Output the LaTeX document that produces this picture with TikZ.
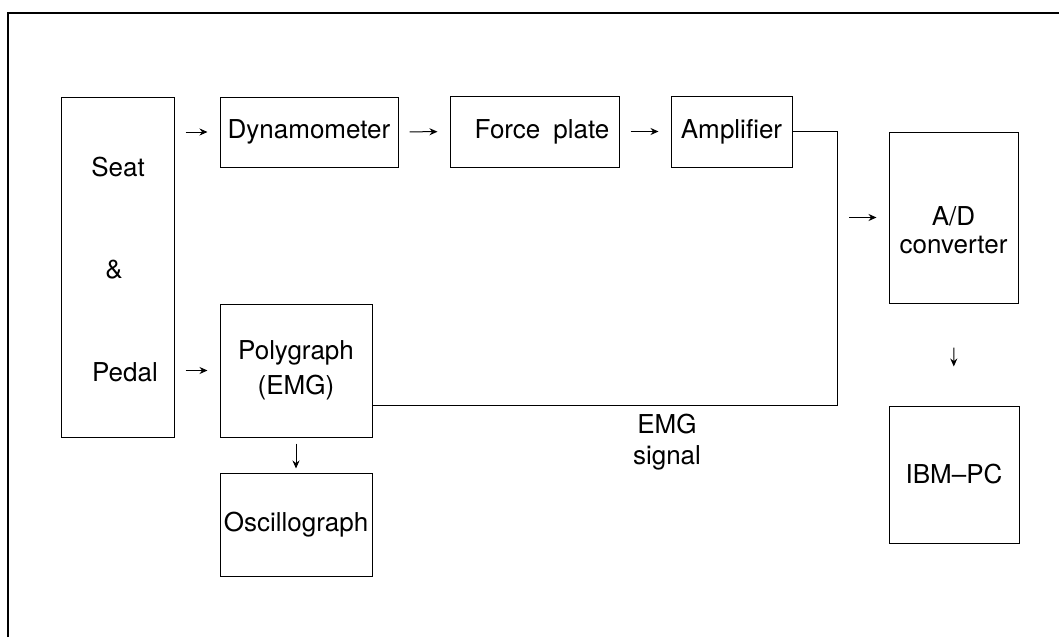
\documentclass[tikz,border=0pt]{standalone}
\usepackage{fontspec}
\setmainfont{TeX Gyre Heros}
\usetikzlibrary{arrows.meta}

\tikzset{
    box/.style={draw, line width=1pt, inner sep=0pt},
    lbl/.style={align=center, font=\fontsize{26}{35}\selectfont},
    arr/.style={-{Stealth[length=8pt, width=7pt]}, line width=1pt, shorten <=11pt, shorten >=12pt},
    wire/.style={line width=1pt},
}

\begin{document}
\begin{tikzpicture}[x=1pt, y=-1pt]
            \useasboundingbox (0, 0) rectangle (1059, 637);
            \draw[line width=2.2pt] (8, 637) -- (8, 13) -- (1059, 13);

            % left column
            \node[box, minimum width=113, minimum height=340] (seat) at (117.5, 267) {};
            \node[lbl] (seattxt) at (118, 167) {Seat};
            \node[lbl] (amptxt) at (114, 270) {\&};
            \node[lbl] (pedaltxt) at (125, 372) {Pedal};

            % top row
            \node[box, lbl, minimum width=178, minimum height=70] (dyn) at (309, 132) {Dynamometer};
            \node[box, minimum width=169, minimum height=71] (force) at (534.5, 131.5) {};
            \node[lbl] (forcetxt) at (542, 131.5) {Force\enspace plate};
            \node[box, lbl, minimum width=121, minimum height=71] (amp) at (731.5, 131.5) {Amplifier};

            % lower row
            \node[box, lbl, minimum width=152, minimum height=133] (poly) at (296, 370.5) {Polygraph\\(EMG)};
            \node[box, lbl, minimum width=152, minimum height=103] (osc) at (296, 524.5) {Oscillograph};

            % right column
            \node[box, minimum width=129, minimum height=171] (adc) at (953.5, 217.5) {};
            \node[lbl] (adctxt) at (953.5, 230) {A/D\\[-7pt]converter};
            \node[box, lbl, minimum width=130, minimum height=137] (pc) at (954, 474.5) {IBM\textendash PC};

            \coordinate (jn) at (837, 405);
            \node[lbl] (emgsig) at (667, 442) {EMG\\[-4pt]signal};

            \draw[arr] (seat.east |- dyn.west) -- (dyn.west);
            \draw[arr] (dyn) -- (force);
            \draw[arr] (force) -- (amp);
            \draw[arr] (seat.east |- poly.west) -- (poly.west);
            \draw[arr, shorten <=6pt, shorten >=4pt] (poly) -- (osc);
            \draw[wire] (amp.east) -| (jn) -- (poly.east |- jn);
            \draw[arr, shorten <=12pt] (jn |- adc.west) -- (adc.west);
            \draw[arr, shorten <=44pt, shorten >=39pt] (adc) -- (pc);
        \end{tikzpicture}
\end{document}
